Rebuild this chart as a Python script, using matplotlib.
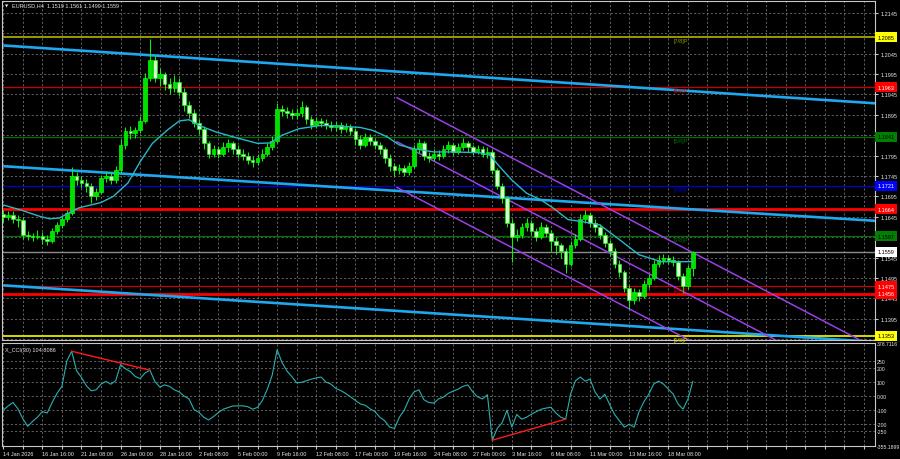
import numpy as np
import pandas as pd
import matplotlib
matplotlib.use("Agg")
import matplotlib.pyplot as plt
import matplotlib.transforms as mtransforms

plt.rcParams['font.family'] = ['Liberation Sans', 'DejaVu Sans']

# EURUSD H4, drawn as one candle per two H4 bars (x in H4 bar units)
first_open = 1.1652
closes = [1.1645, 1.1650, 1.1640, 1.1638, 1.1600, 1.1597, 1.1595, 1.1598, 1.1590, 1.1585,
          1.1610, 1.1625, 1.1640, 1.1655, 1.1745, 1.1735, 1.1728, 1.1720, 1.1695, 1.1705,
          1.1740, 1.1745, 1.1735, 1.1760, 1.1820, 1.1855, 1.1850, 1.1858, 1.1880, 1.1985,
          1.2030, 1.1985, 1.1995, 1.1970, 1.1960, 1.1975, 1.1950, 1.1920, 1.1900, 1.1875,
          1.1860, 1.1825, 1.1800, 1.1810, 1.1800, 1.1815, 1.1825, 1.1810, 1.1800, 1.1795,
          1.1785, 1.1780, 1.1790, 1.1800, 1.1815, 1.1830, 1.1910, 1.1905, 1.1900, 1.1895,
          1.1900, 1.1915, 1.1885, 1.1870, 1.1880, 1.1875, 1.1870, 1.1865, 1.1870, 1.1860,
          1.1865, 1.1855, 1.1835, 1.1820, 1.1840, 1.1830, 1.1820, 1.1810, 1.1790, 1.1770,
          1.1760, 1.1765, 1.1755, 1.1770, 1.1810, 1.1825, 1.1795, 1.1790, 1.1800, 1.1795,
          1.1810, 1.1820, 1.1805, 1.1815, 1.1825, 1.1815, 1.1805, 1.1810, 1.1800, 1.1805,
          1.1760, 1.1720, 1.1690, 1.1630, 1.1595, 1.1600, 1.1620, 1.1630, 1.1610, 1.1595,
          1.1620, 1.1605, 1.1585, 1.1575, 1.1560, 1.1530, 1.1575, 1.1590, 1.1640, 1.1650,
          1.1630, 1.1620, 1.1600, 1.1580, 1.1560, 1.1530, 1.1510, 1.1470, 1.1440, 1.1460,
          1.1450, 1.1480, 1.1495, 1.1530, 1.1540, 1.1545, 1.1540, 1.1535, 1.1500, 1.1475,
          1.1519, 1.1559]
highs = [1.1662, 1.1660, 1.1658, 1.1650, 1.1645, 1.1610, 1.1606, 1.1612, 1.1608, 1.1600,
         1.1618, 1.1632, 1.1648, 1.1662, 1.1768, 1.1755, 1.1745, 1.1738, 1.1728, 1.1715,
         1.1748, 1.1758, 1.1755, 1.1770, 1.1835, 1.1865, 1.1868, 1.1866, 1.1892, 1.1998,
         1.2082, 1.2040, 1.2010, 1.2000, 1.1985, 1.1992, 1.1985, 1.1960, 1.1930, 1.1910,
         1.1885, 1.1868, 1.1832, 1.1822, 1.1818, 1.1828, 1.1835, 1.1832, 1.1820, 1.1812,
         1.1805, 1.1795, 1.1800, 1.1810, 1.1825, 1.1842, 1.1925, 1.1920, 1.1915, 1.1910,
         1.1912, 1.1928, 1.1920, 1.1892, 1.1890, 1.1888, 1.1885, 1.1880, 1.1880, 1.1878,
         1.1875, 1.1872, 1.1862, 1.1845, 1.1850, 1.1848, 1.1838, 1.1828, 1.1815, 1.1798,
         1.1778, 1.1775, 1.1772, 1.1780, 1.1822, 1.1836, 1.1830, 1.1805, 1.1810, 1.1808,
         1.1820, 1.1830, 1.1826, 1.1825, 1.1838, 1.1832, 1.1822, 1.1820, 1.1818, 1.1815,
         1.1810, 1.1765, 1.1728, 1.1695, 1.1640, 1.1615, 1.1630, 1.1642, 1.1638, 1.1618,
         1.1632, 1.1628, 1.1612, 1.1595, 1.1582, 1.1568, 1.1585, 1.1602, 1.1652, 1.1662,
         1.1656, 1.1640, 1.1628, 1.1608, 1.1588, 1.1568, 1.1538, 1.1515, 1.1478, 1.1470,
         1.1468, 1.1490, 1.1505, 1.1540, 1.1552, 1.1555, 1.1552, 1.1548, 1.1540, 1.1508,
         1.1528, 1.1561]
lows = [1.1632, 1.1636, 1.1630, 1.1620, 1.1590, 1.1588, 1.1585, 1.1590, 1.1578, 1.1575,
        1.1580, 1.1602, 1.1618, 1.1632, 1.1650, 1.1722, 1.1715, 1.1705, 1.1680, 1.1685,
        1.1700, 1.1730, 1.1725, 1.1728, 1.1752, 1.1812, 1.1835, 1.1838, 1.1850, 1.1875,
        1.1978, 1.1975, 1.1965, 1.1955, 1.1945, 1.1950, 1.1940, 1.1905, 1.1888, 1.1865,
        1.1848, 1.1812, 1.1790, 1.1792, 1.1788, 1.1795, 1.1805, 1.1800, 1.1790, 1.1785,
        1.1775, 1.1768, 1.1772, 1.1782, 1.1795, 1.1808, 1.1825, 1.1892, 1.1888, 1.1885,
        1.1885, 1.1890, 1.1872, 1.1860, 1.1862, 1.1865, 1.1860, 1.1855, 1.1856, 1.1850,
        1.1852, 1.1845, 1.1822, 1.1812, 1.1815, 1.1820, 1.1810, 1.1800, 1.1778, 1.1758,
        1.1745, 1.1750, 1.1745, 1.1748, 1.1765, 1.1802, 1.1785, 1.1780, 1.1782, 1.1785,
        1.1788, 1.1802, 1.1796, 1.1798, 1.1808, 1.1805, 1.1796, 1.1798, 1.1792, 1.1790,
        1.1750, 1.1712, 1.1680, 1.1620, 1.1535, 1.1585, 1.1592, 1.1610, 1.1600, 1.1585,
        1.1590, 1.1595, 1.1560, 1.1555, 1.1545, 1.1508, 1.1525, 1.1568, 1.1585, 1.1630,
        1.1620, 1.1608, 1.1590, 1.1570, 1.1548, 1.1520, 1.1498, 1.1460, 1.1418, 1.1432,
        1.1438, 1.1445, 1.1470, 1.1490, 1.1522, 1.1530, 1.1530, 1.1525, 1.1490, 1.1458,
        1.1468, 1.1499]

# moving average: (H4 bar, price)
ma_bar = [0, 7, 15, 19, 23, 26, 31, 40, 45, 51, 56, 61, 67, 72, 76, 80, 87, 94, 104, 109,
          114, 121, 130, 138, 146, 151, 157, 162, 168, 176, 184, 195, 199, 203, 208, 214,
          220, 225, 231, 236, 244, 252, 260, 269, 275, 282]
ma_val = [1.1674, 1.1662, 1.1646, 1.1640, 1.1642, 1.1652, 1.1667, 1.1680, 1.1695, 1.1728,
          1.1780, 1.1825, 1.1857, 1.1880, 1.1883, 1.1869, 1.1853, 1.1841, 1.1825, 1.1826,
          1.1845, 1.1861, 1.1869, 1.1867, 1.1864, 1.1857, 1.1841, 1.1821, 1.1812, 1.1804,
          1.1804, 1.1802, 1.1796, 1.1768, 1.1735, 1.1703, 1.1686, 1.1666, 1.1638, 1.1634,
          1.1625, 1.1589, 1.1552, 1.1535, 1.1535, 1.1535]

cci = [-100, -70, -45, -90, -160, -215, -180, -150, -110, -120,
       -45, 20, 70, 250, 320, 181, 133, 74, 38, 45,
       86, 105, 85, 110, 225, 195, 175, 140, 125, 165,
       185, 105, 65, 80, 70, 45, 30, 0, -20, -95,
       -115, -150, -170, -145, -117, -93, -81, -70, -69, -69,
       -75, -93, -80, -30, 50, 150, 330, 240, 180, 140,
       95, 98, 110, 121, 130, 136, 100, 86, 55, 40,
       20, -5, -30, -55, -65, -90, -110, -150, -175, -220,
       -230, -150, -100, -20, 30, 45, -25, -45, -50, -20,
       -7, 20, 36, 50, 70, 80, 30, -5, -20, 10,
       -314, -230, -190, -100, -220, -130, -164, -150, -129, -110,
       -93, -85, -79, -120, -150, -164, 14, 110, 136, 107,
       121, 30, -21, 14, -60, -130, -175, -221, -200, -221,
       -110, -40, 14, 86, 107, 86, 50, 14, -57, -93,
       -21, 104.8086]
cci_div = [(14, 30), (100, 115)]   # candle indices joined by the red lines
cci_ticks = [378.7116, 250, 200, 100, 0, -100, -200, -250, -355.1899]
cci_tick_labels = ["378.7116", "250", "200", "100", "0.00", "-100", "-200", "-250", "-355.1899"]

date_labels = ["14 Jan 2026", "16 Jan 16:00", "21 Jan 08:00", "26 Jan 00:00", "28 Jan 16:00",
               "2 Feb 08:00", "5 Feb 00:00", "9 Feb 16:00", "12 Feb 08:00", "17 Feb 00:00",
               "19 Feb 16:00", "24 Feb 08:00", "27 Feb 00:00", "3 Mar 16:00", "6 Mar 08:00",
               "11 Mar 00:00", "13 Mar 16:00", "18 Mar 08:00"]

murrey_levels = [1.2085, 1.1963, 1.1841, 1.1721, 1.1597, 1.1475, 1.1353]
murrey_names = ["[7/8]P", "[6/8]P", "[5/8]P", "[4/8]P", "[3/8]P", "[2/8]P", "[1/8]P"]
murrey_colors = ["#9a9a00", "#c80000", "#007000", "#0000d0", "#007000", "#c80000", "#d8d800"]
box_colors = ["#ffff00", "#ff0000", "#008000", "#0000ff", "#008000", "#ff0000", "#ffff00"]
box_text = ["black", "white", "black", "white", "black", "white", "black"]
sr_levels = [1.1664, 1.1456]
bid = 1.1559
title = "EURUSD,H4  1.1519 1.1561 1.1499 1.1559"

# regression channel (cyan) and descending channel (purple): (bar, price) end points
chan_x = [0, 357]
chan_upper = [1.2065, 1.1923]
chan_mid = [1.1769, 1.1635]
chan_lower = [1.1477, 1.1338]
pch_x = [161, 357]
pch_upper = [1.1937, 1.1322]
pch_mid = [1.1829, 1.1214]
pch_lower = [1.1717, 1.1103]

# ---- derived ----
n = len(closes)
xs = np.arange(n) * 2
c = np.array(closes)
o = np.r_[first_open, c[:-1]]
h = np.array(highs)
l = np.array(lows)

bg = "black"
frame = "#c8c8c8"
grid_c = "#707070"
txt = "#e6e6e6"
fs = 4

fig = plt.figure(figsize=(9, 4.6), dpi=100, facecolor=bg)
ax = fig.add_axes([2 / 900, 1 - 341 / 460, 873 / 900, 339 / 460], facecolor=bg)
ax2 = fig.add_axes([2 / 900, 1 - 447 / 460, 873 / 900, 103 / 460], facecolor=bg, sharex=ax)

ax.set_xlim(-0.5, 356.5)
ax.set_ylim(1.1343, 1.2174)

for a in (ax, ax2):
    for s in a.spines.values():
        s.set_color(frame)
        s.set_linewidth(0.8)
    a.set_xticks(np.arange(0, 357, 8))
    a.grid(True, color=grid_c, linestyle=(0, (2.5, 2.5)), linewidth=0.6)
    a.set_axisbelow(True)

# price axis, labels hidden under the level boxes are left out
box_levels = murrey_levels + sr_levels + [bid]
yt = np.round(np.arange(1.1345, 1.2146, 0.005), 4)
ax.set_yticks(yt)
ax.set_yticklabels(["" if min(abs(v - b) for b in box_levels) < 0.00105 else f"{v:.4f}"
                    for v in yt])
ax.yaxis.tick_right()
ax.tick_params(axis="y", colors=txt, labelsize=fs, length=2, pad=2, color=frame)
ax.tick_params(axis="x", length=0, labelbottom=False)

# horizontal levels
for lv, col in zip(murrey_levels, murrey_colors):
    lw = 1.4 if lv in (1.2085, 1.1353) else 0.9
    ax.axhline(lv, color=col, lw=lw, zorder=2)
for lv in sr_levels:
    ax.axhline(lv, color="#ff0000", lw=2.0, zorder=2)
ax.axhline(bid, color="#8c8c8c", lw=1.0, zorder=2)

# channels
for yy in (chan_upper, chan_mid, chan_lower):
    ax.plot(chan_x, yy, color="#1ea8f0", lw=1.9, zorder=3, solid_capstyle="butt")
for yy in (pch_upper, pch_mid, pch_lower):
    ax.plot(pch_x, yy, color="#9b3fe6", lw=1.1, zorder=3)

# candles
up = c >= o
ax.vlines(xs, l, h, color="#00ff00", lw=0.7, zorder=4)
body_lo = np.minimum(o, c)
body_h = np.maximum(np.abs(c - o), 0.00012)
ax.bar(xs[up], body_h[up], bottom=body_lo[up], width=1.5, color="#00e000",
       edgecolor="#00ff00", linewidth=0.5, zorder=5)
ax.bar(xs[~up], body_h[~up], bottom=body_lo[~up], width=1.5, color="#d6ffcc",
       edgecolor="#00ff00", linewidth=0.5, zorder=5)

# moving average
ax.plot(ma_bar, ma_val, color="#27b9c9", lw=1.0, zorder=6)

# murrey text labels
for lv, name, col in zip(murrey_levels, murrey_names, murrey_colors):
    ax.annotate(name, (274, lv), xytext=(0, -0.8), textcoords="offset points",
                color=col, fontsize=fs, va="top", ha="left", zorder=7, annotation_clip=True)

# price boxes on the right axis
tr = mtransforms.blended_transform_factory(ax.transAxes, ax.transData)
for lv, bc, tc in zip(murrey_levels, box_colors, box_text):
    ax.text(1.003, lv, f"{lv:.4f}", transform=tr, fontsize=fs, color=tc, va="center",
            ha="left", clip_on=False, zorder=10,
            bbox=dict(boxstyle="square,pad=0.45", fc=bc, ec="none"))
for lv in sr_levels:
    ax.text(1.003, lv, f"{lv:.4f}", transform=tr, fontsize=fs, color="white", va="center",
            ha="left", clip_on=False, zorder=10,
            bbox=dict(boxstyle="square,pad=0.45", fc="#ff0000", ec="none"))
ax.text(1.003, bid, f"{bid:.4f}", transform=tr, fontsize=fs, color="black", va="center",
        ha="left", clip_on=False, zorder=10,
        bbox=dict(boxstyle="square,pad=0.45", fc="white", ec="none"))

ax.text(0.003, 0.988, "\u25bc", transform=ax.transAxes, fontsize=3, color=txt,
        va="center", ha="left", family="DejaVu Sans")
ax.text(0.011, 0.988, title, transform=ax.transAxes, fontsize=fs, color=txt,
        va="center", ha="left")

# CCI panel
ax2.set_ylim(cci_ticks[-1], cci_ticks[0])
ax2.plot(xs, cci, color="#2ab0b0", lw=0.8, zorder=4)
for i0, i1 in cci_div:
    ax2.plot([xs[i0], xs[i1]], [cci[i0], cci[i1]], color="#ff1a1a", lw=1.0, zorder=5)
ax2.set_yticks(cci_ticks)
ax2.set_yticklabels(cci_tick_labels)
ax2.yaxis.tick_right()
ax2.tick_params(axis="y", colors=txt, labelsize=3.7, length=0, pad=1)
ax2.yaxis.grid(False)
for g in cci_ticks[1:-1]:
    ax2.axhline(g, color=grid_c, linestyle=(0, (2.5, 2.5)), linewidth=0.6, zorder=1)
ax2.text(0.004, 0.94, "X_CCI(30) 104.8086", transform=ax2.transAxes, fontsize=fs,
         color=txt, va="center", ha="left")

xl = []
for i, t in enumerate(np.arange(0, 357, 8)):
    xl.append(date_labels[i // 2] if i % 2 == 0 and i // 2 < len(date_labels) else "")
ax2.set_xticklabels(xl)
ax2.tick_params(axis="x", colors=txt, labelsize=fs, length=2, pad=1.5, color=frame)
for lab in ax2.get_xticklabels():
    lab.set_ha("left")

fig.savefig("out.png", dpi=100, facecolor=bg)
